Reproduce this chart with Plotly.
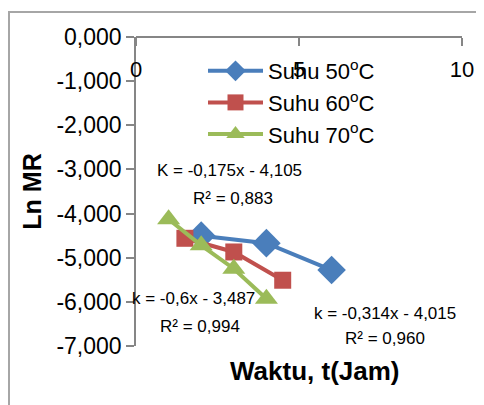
import plotly.graph_objects as go

# Data
x50 = [2, 4, 6]
y50 = [-4.50, -4.67, -5.28]
x60 = [1.5, 3, 4.5]
y60 = [-4.56, -4.87, -5.51]
x70 = [1, 2, 3, 4]
y70 = [-4.13, -4.72, -5.25, -5.93]

names = ["Suhu 50<sup>o</sup>C", "Suhu 60<sup>o</sup>C", "Suhu 70<sup>o</sup>C"]
colors = ["#4A7EBB", "#C0504D", "#9BBB59"]

y_ticks = [0, -1, -2, -3, -4, -5, -6, -7]
y_ticktext = ["0,000", "-1,000", "-2,000", "-3,000", "-4,000", "-5,000", "-6,000", "-7,000"]
x_ticks = [0, 5, 10]
x_ticktext = ["0", "5", "10"]

eq_texts = [
    ("K = -0,175x - 4,105", 2.88, -3.02),
    ("R² = 0,883", 2.98, -3.65),
    ("k = -0,6x - 3,487", 1.75, -5.93),
    ("R² = 0,994", 1.96, -6.56),
    ("k = -0,314x - 4,015", 7.63, -6.26),
    ("R² = 0,960", 7.63, -6.83),
]

fig = go.Figure()
fig.add_trace(go.Scatter(x=x50, y=y50, name=names[0], mode="lines+markers",
                         line=dict(color=colors[0], width=4),
                         marker=dict(symbol="diamond", size=22, color=colors[0])))
fig.add_trace(go.Scatter(x=x60, y=y60, name=names[1], mode="lines+markers",
                         line=dict(color=colors[1], width=4),
                         marker=dict(symbol="square", size=17, color=colors[1])))
fig.add_trace(go.Scatter(x=x70, y=y70, name=names[2], mode="lines+markers",
                         line=dict(color=colors[2], width=4),
                         marker=dict(symbol="triangle-up", size=20, color=colors[2])))

for txt, ax, ay in eq_texts:
    fig.add_annotation(x=ax, y=ay, text=txt, showarrow=False, xref="x", yref="y",
                       font=dict(family="Liberation Sans, Arial", size=17, color="#000000"))

OFF = 8  # page body offset
W, H = 476, 397
L, T = 136 - OFF, 37 - OFF
pw, ph = 326, 309
R = W - L - pw
B = H - T - ph

def px_x(p):
    return (p - OFF - L) / pw

def px_y(p):
    return (H - B - (p - OFF)) / ph

fig.add_shape(type="rect", xref="paper", yref="paper",
              x0=px_x(9), x1=px_x(540), y0=px_y(460), y1=px_y(12),
              line=dict(color="#A6A6A6", width=2), fillcolor="rgba(0,0,0,0)", layer="below")

fig.add_annotation(x=px_x(315), y=px_y(388), xref="paper", yref="paper",
                   text="<b>Waktu, t(Jam)</b>", showarrow=False,
                   font=dict(size=26, color="#000000"))

fig.update_layout(
    width=W, height=H,
    margin=dict(l=L, r=R, t=T, b=B, autoexpand=False),
    paper_bgcolor="white", plot_bgcolor="white",
    font=dict(family="Liberation Sans, Arial", size=22, color="#000000"),
    showlegend=True,
    legend=dict(x=px_x(203), y=px_y(50), xanchor="left", yanchor="top",
                bgcolor="rgba(0,0,0,0)", font=dict(size=22), itemwidth=55,
                tracegroupgap=0),
    xaxis=dict(range=[0, 10], tickvals=x_ticks, ticktext=x_ticktext,
               showgrid=False, zeroline=False, showline=True, linecolor="#868686", linewidth=1.5,
               ticks="outside", ticklen=8, tickcolor="#868686", tickwidth=1.5,
               side="bottom", anchor="free", position=1, ticklabelstandoff=5,
               tickfont=dict(size=22)),
    yaxis=dict(range=[-7, 0], tickvals=y_ticks, ticktext=y_ticktext,
               showgrid=False, zeroline=False, showline=True, linecolor="#868686", linewidth=1.5,
               ticks="outside", ticklen=8, tickcolor="#868686", tickwidth=1.5,
               tickfont=dict(size=23),
               title=dict(text="<b>Ln MR</b>", font=dict(size=25), standoff=8)),
)

fig.write_html("out.html")
